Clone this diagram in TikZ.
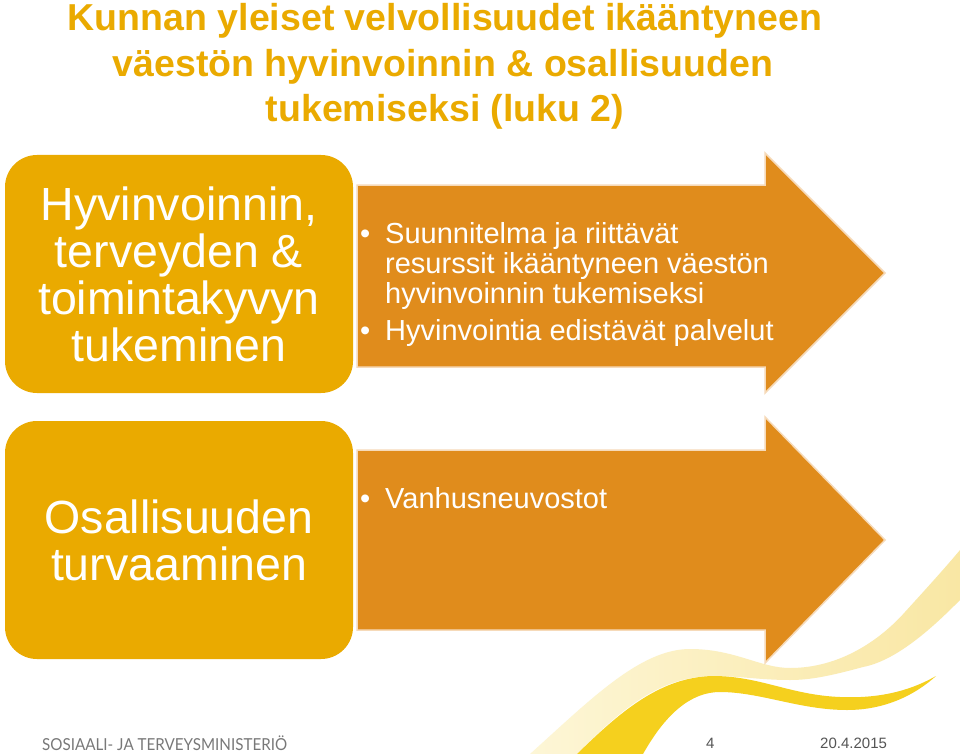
\documentclass[tikz,border=0pt]{standalone}
\usepackage{fontspec}
\setmainfont{Liberation Sans}
\newfontfamily\footfont[FakeStretch=0.92]{Lato}
\definecolor{boxgold}{RGB}{234,170,0}
\definecolor{arroworange}{RGB}{224,140,28}
\definecolor{arrowedge}{RGB}{246,218,185}
\definecolor{titlegold}{RGB}{234,170,0}
\definecolor{paleleft}{RGB}{253,246,214}
\definecolor{paleright}{RGB}{249,231,164}
\definecolor{brightwave}{RGB}{245,208,30}
\definecolor{footgray}{RGB}{120,120,120}
\definecolor{dategray}{RGB}{85,85,85}
\tikzset{
  goldbox/.style={fill=boxgold, draw=none, rounded corners=32pt,
    minimum width=348pt, minimum height=238pt, text=white, align=center,
    font=\fontsize{46.5}{47}\selectfont, inner sep=0pt},
  arrowshape/.style={fill=arroworange, draw=arrowedge, line width=1.5pt, line join=miter},
  titletext/.style={text=titlegold, anchor=base, inner sep=0pt,
    font=\fontsize{37.5}{40}\selectfont\bfseries},
  bullettext/.style={text=white, anchor=base west, inner sep=0pt,
    font=\fontsize{29}{30}\selectfont},
  bulletdot/.style={text=white, anchor=base west, inner sep=0pt,
    font=\fontsize{29}{30}\selectfont},
  foottext/.style={anchor=base west, inner sep=0pt},
}
\begin{document}
\begin{tikzpicture}[x=1pt,y=-1pt]
\useasboundingbox[fill=white] (0,0) rectangle (960,754);

% title
\node[titletext] (t1) at (445,31) {Kunnan yleiset velvollisuudet ikääntyneen};
\node[titletext] (t2) at (443,77) {väestön hyvinvoinnin \& osallisuuden};
\node[titletext] (t3) at (445,122) {tukemiseksi (luku 2)};

% decorative waves
\shade[left color=paleleft, right color=paleright]
  (530,754) .. controls (590,700) and (640,649) .. (690,649)
  .. controls (735,649) and (760,668) .. (790,668)
  .. controls (840,668) and (880,640) .. (905,612)
  .. controls (925,590) and (945,568) .. (960,550)
  -- (960,600)
  .. controls (940,620) and (900,660) .. (863,667)
  .. controls (830,676) and (810,680) .. (790,680)
  .. controls (760,680) and (740,676) .. (713,676)
  .. controls (660,676) and (620,710) .. (577,754) -- cycle;
\fill[brightwave]
  (577,754) .. controls (620,712) and (660,677) .. (713,676)
  .. controls (760,676) and (790,695) .. (840,697)
  .. controls (885,699) and (915,688) .. (936,676)
  .. controls (915,695) and (885,710) .. (847,710)
  .. controls (800,710) and (760,692) .. (720,692)
  .. controls (690,692) and (665,715) .. (643,754) -- cycle;

% row 1
\node[goldbox] (b1) at (179,274) {Hyvinvoinnin,\\terveyden \&\\toimintakyvyn\\tukeminen};
\path[arrowshape] (357,185) -- (765,185) -- (765,153) -- (885,273) -- (765,393) -- (765,367) -- (357,367) -- cycle;
\node[bulletdot] (d1) at (360,243) {•};
\node[bullettext] (a1) at (385,243) {Suunnitelma ja riittävät};
\node[bullettext] (a2) at (385,273) {resurssit ikääntyneen väestön};
\node[bullettext] (a3) at (385,303) {hyvinvoinnin tukemiseksi};
\node[bulletdot] (d2) at (360,340) {•};
\node[bullettext] (a4) at (385,340) {Hyvinvointia edistävät palvelut};

% row 2
\node[goldbox] (b2) at (179,540) {Osallisuuden\\turvaaminen};
\path[arrowshape] (357,450) -- (765,450) -- (765,417) -- (885,540) -- (765,663) -- (765,630) -- (357,630) -- cycle;
\node[bulletdot] (d3) at (360,508) {•};
\node[bullettext] (a5) at (385,508) {Vanhusneuvostot};

% footer
\node[foottext, text=footgray, font=\footfont\fontsize{16.5}{18}\selectfont] (f1) at (42,750) {SOSIAALI- JA TERVEYSMINISTERIÖ};
\node[foottext, text=dategray, font=\fontsize{15}{16}\selectfont] (f2) at (706,748) {4};
\node[foottext, text=dategray, font=\fontsize{15}{16}\selectfont] (f3) at (820,748) {20.4.2015};
\end{tikzpicture}
\end{document}
